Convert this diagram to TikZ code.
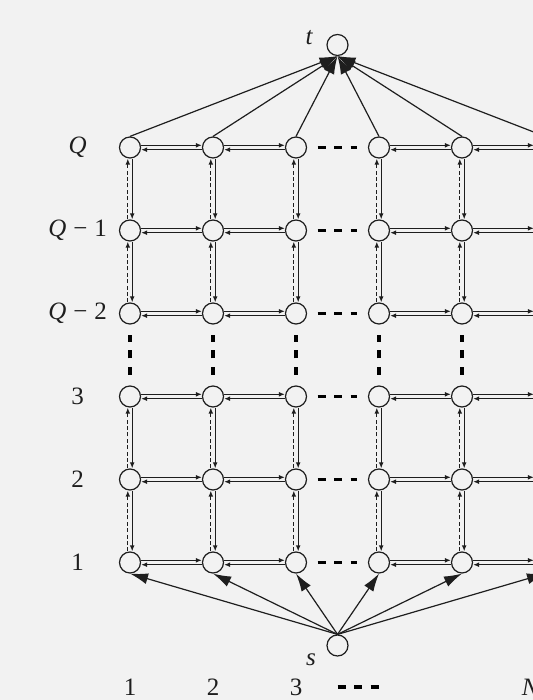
\documentclass[tikz,border=0pt]{standalone}
\usepackage{fontspec}
\setmainfont{Liberation Serif}
\usetikzlibrary{arrows.meta,positioning}
\definecolor{ink}{HTML}{1E1E1E}
\definecolor{paper}{HTML}{F2F2F2}
\tikzset{
  every node/.style={font=\fontsize{12.5}{15}\selectfont, text=ink},
  vertex/.style={circle, draw=ink, line width=0.6pt, minimum size=10.5pt, inner sep=0pt},
  flow/.style={-{Latex[length=3pt,width=2.4pt]}, line width=0.6pt, draw=ink},
  backflow/.style={flow, dash pattern=on 2pt off 1.2pt},
  feed/.style={-{Latex[length=9pt,width=5.5pt]}, line width=0.6pt, draw=ink},
  gap/.style={line width=1.8pt, draw=black, dash pattern=on 4pt off 4.25pt, shorten <=5.25pt, shorten >=5.25pt},
}
\begin{document}
\begin{tikzpicture}[x=41.5pt, y=41.5pt]
\fill[paper] (-0.5663,-0.6566) rectangle (5.8554,7.7771);
\clip (-0.5663,-0.6566) rectangle (5.8554,7.7771);
\foreach \i in {1,...,6}
  \foreach \r in {1,...,6}
    \node[vertex] (n-\i-\r) at (\i,\r) {};
\node[vertex] (t) at (3.5,7.235) {};
\node[vertex] (s) at (3.5,0) {};
\node (t-lab) at (3.16,7.33) {\textit{t}};
\node (s-lab) at (3.18,-0.175) {\textit{s}};
\foreach \r/\txt in {1/1,2/2,3/3,4/{\textit{Q}\;−\;2},5/{\textit{Q}\;−\;1},6/\textit{Q}}
  \node (row-\r) at (0.37,\r) {\txt};
\foreach \i/\txt in {1/1,2/2,3/3,5.83/\textit{N}}
  \node (col-\i) at (\i,-0.5) {\txt};
\foreach \i/\j in {1/2,2/3,4/5,5/6}
  \foreach \r in {1,...,6} {
    \draw[flow] ([yshift=1.1pt]n-\i-\r.east) -- ([yshift=1.1pt]n-\j-\r.west);
    \draw[flow] ([yshift=-1.1pt]n-\j-\r.west) -- ([yshift=-1.1pt]n-\i-\r.east);
  }
\foreach \i in {1,...,6}
  \foreach \r/\q in {1/2,2/3,4/5,5/6} {
    \draw[backflow] ([xshift=-1.1pt]n-\i-\r.north) -- ([xshift=-1.1pt]n-\i-\q.south);
    \draw[flow] ([xshift=1.1pt]n-\i-\q.south) -- ([xshift=1.1pt]n-\i-\r.north);
  }
\foreach \r in {1,...,6}
  \draw[gap] (n-3-\r) -- (n-4-\r);
\foreach \i in {1,...,5}
  \draw[gap] (n-\i-3) -- (n-\i-4);
\draw[gap, shorten <=0pt, shorten >=0pt] (3.5,-0.5) -- (4,-0.5);
\foreach \i in {1,...,6} {
  \draw[feed] (n-\i-6.north) -- (t.south);
  \draw[feed] (s.north) -- (n-\i-1.south);
}
\end{tikzpicture}
\end{document}
